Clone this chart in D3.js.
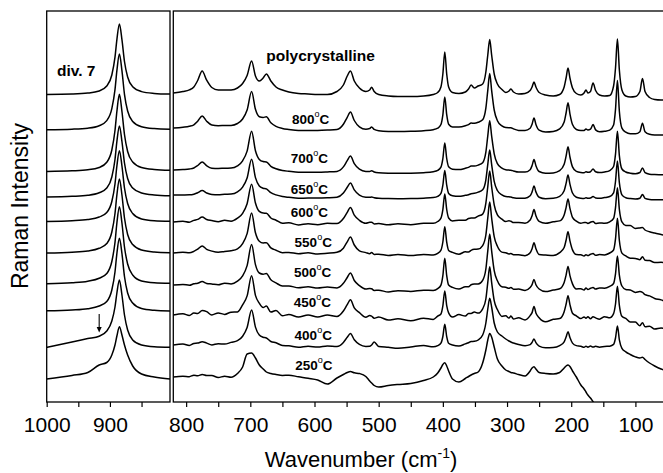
<!DOCTYPE html>
<html>
<head>
<meta charset="utf-8">
<script src="https://cdn.jsdelivr.net/npm/d3@7/dist/d3.min.js"></script>
<style>
  body { margin: 0; background: #fff; }
  svg { display: block; }
  text { font-family: Arial, "Liberation Sans", sans-serif; fill: #000; }
</style>
</head>
<body>
<div id="chart"></div>
<script>
// ---- data ----
// spectrum names, top to bottom
const names = ["polycrystalline", "800", "700", "650", "600", "550", "500", "450", "400", "250"];
// vertical offset of each spectrum (arbitrary intensity units)
const offsets = [309, 274, 232, 207, 180, 149, 117, 87, 57, 25];

// left panel (div. 7), wavenumbers in cm-1
const wnLeft = [1000, 960, 935, 917, 905, 897, 892, 889, 885, 881, 877, 872, 864, 850, 830, 805];
const lPoly = [-1.4, -1, -0.1, 2, 7, 18, 35.8, 53.4, 69, 53.4, 31.5, 16, 6.3, 1.4, -0.4, -1.1];
const l800 = [-1.7, -1.2, -0.2, 2.3, 7.4, 19.3, 38.3, 57.3, 74, 57.3, 33.7, 17, 6.6, 1.3, -0.6, -1.3];
const l700 = [-1.4, -0.8, 0.2, 2.5, 7.8, 20, 39.5, 58.5, 75.7, 58.5, 35.5, 18.5, 8, 2.5, 0.5, -0.3];
const l650 = [-2, -1.3, -0.3, 2.2, 7, 18, 35.5, 53.5, 69, 53.5, 32, 16.5, 7, 2, 0, -0.8];
const l600 = [0.6, 1.3, 2.5, 5, 9.5, 20.5, 38, 56, 71.3, 56, 34, 18.5, 8.5, 3, 1.3, 0.8];
const l550 = [0, 0.8, 2, 4.7, 9.5, 21, 39.5, 58, 74, 58, 35, 18.5, 8.5, 3, 1, 0.3];
const l500 = [1.2, 2.2, 3.8, 6.7, 11.5, 23.5, 42.5, 62, 78.3, 62, 38, 21, 10, 4, 2.2, 1.7];
const l450 = [4.2, 5, 6.3, 9, 13.5, 25, 43, 61.5, 76.7, 61.5, 38.5, 22, 12, 6.5, 4.7, 4];
const l400 = [-2.3, 3.1, 6.4, 8.8, 14, 24, 38, 52, 65, 50, 30, 15, 5, 0, -1.8, -2.3];
const l250 = [-2, 1.5, 4.5, 12, 14.5, 22, 32, 41, 50.3, 42, 32, 22, 11, 3, 0, -2];

// right panel, wavenumbers in cm-1
const wnRight = [820, 805, 795, 788, 782, 775, 768, 760, 750, 740,
  730, 720, 712, 705, 698, 692, 686, 680, 675, 668,
  660, 650, 640, 625, 610, 595, 580, 565, 555, 549,
  544, 538, 530, 520, 514, 511, 507, 500, 485, 470,
  450, 430, 415, 408, 403, 400, 397, 394, 391, 385,
  375, 365, 360, 356, 351, 345, 338, 333, 330, 327,
  324, 320, 315, 308, 302, 297, 294, 290, 282, 272,
  264, 261, 258, 255, 250, 240, 228, 218, 211, 208,
  205, 202, 198, 192, 185, 180, 177, 174, 170, 166,
  162, 156, 148, 140, 134, 131, 128, 125, 121, 115,
  108, 100, 93, 89, 85, 78, 70, 60, 50];

const rPoly = [0, 1.5, 3.1, 6, 12.5, 22, 12.8, 5.5, 3, 3,
  3, 5, 9.5, 17.5, 32, 17, 12, 15, 19, 12,
  6, 3, 1, -0.5, -1, -1.5, -1.5, 1.5, 8, 17,
  22, 12, 5, 1.5, 3, 5.7, 1.5, -1.5, -3, -3.5,
  -3.5, -3, -1.5, 0.5, 6, 19, 41, 19, 6, 0.5,
  -0.5, 1, 4, 8, 5, 7, 9, 21, 38, 53.5,
  38, 19, 9, 3.5, 0.5, 2, 4, 1, -1, -0.5,
  2.5, 6, 11, 6, 0.5, -2, -3, -1.5, 6, 15,
  25, 15, 5, -0.5, -2, 0, 3, 0, 1.5, 10,
  2.5, -2, -3, -2.5, 7, 25, 54, 23, 3, -3,
  -4, -3.5, 1.5, 14.5, 1.5, -4.5, -6.5, -7, -7];
const r800 = [0, 0.8, 1.7, 3.2, 6.8, 12, 6.8, 3, 2.3, 2.5,
  2.6, 4.5, 9, 18, 36.4, 18.7, 11.3, 10.6, 11.2, 5.3,
  1.7, -0.4, -1.4, -2.5, -2.6, -2.5, -2.1, -1.5, 3.7, 10.7,
  16, 7.5, 1.2, -1.2, -0.5, 1.1, -1.4, -2.7, -3.4, -3.5,
  -3.3, -2.7, -1.7, -0.2, 3.5, 13.2, 31, 13.3, 3.8, 1.1,
  1, 2.2, 3.4, 4.9, 4.8, 5.7, 8.2, 19.8, 37.7, 54.5,
  37.6, 18, 7.3, 2.1, 0.4, 0.3, 0.3, -0.9, -2.4, -2.6,
  -0.3, 3.8, 10, 3.6, -2.1, -3.9, -3.4, -0.9, 6, 15,
  25.3, 14.2, 3.4, -1.5, -2.5, -2.4, -0.9, -2, -1.2, 3.4,
  -1.9, -3.8, -3.3, -2.1, 3, 18.6, 47.5, 16.8, -0.1, -4.2,
  -5.7, -5.8, -3.7, 4.8, -3.8, -6.3, -6.9, -7, -7];
const r700 = [0, 0.5, 1, 2, 4.5, 8.1, 4.3, 1.8, 1.5, 1.8,
  1.9, 4.2, 9.2, 18.9, 38.8, 19.3, 10.6, 8.4, 8, 3.7,
  1.2, -0.5, -1.3, -2.2, -2.2, -2.2, -1.9, -1.4, 3.1, 9.3,
  13.9, 6.4, 0.8, -1.4, -1.5, -0.8, -2, -2.8, -3.2, -3.3,
  -3.2, -2.7, -1.7, -0.4, 2.9, 11.4, 26.9, 11.5, 3.2, 0.8,
  0.4, 1.7, 2.6, 4, 4, 4.9, 7.3, 17.8, 34.1, 49.3,
  34, 16.2, 6.4, 1.8, 0.2, -0.1, -0.2, -1, -2.1, -2.1,
  0.3, 4.4, 10.6, 4.2, -1.5, -3.2, -2.9, -0.7, 5.7, 13.8,
  23.3, 13, 3.1, -1.4, -2.5, -2.7, -1.8, -2.3, -1.7, 0.9,
  -1.8, -2.6, -2, -0.6, 3.5, 15.9, 38.7, 14.4, 1, -2,
  -3.2, -3.7, -2.5, 2.1, -2.7, -4.2, -4.6, -4.8, -5];
const r650 = [0, 0.1, 0.2, 0.8, 2.3, 4.4, 2, 0.5, 0.3, 0.7,
  0.9, 3.1, 7.9, 17, 35.7, 17.4, 9.1, 6.8, 6.1, 2.3,
  0.1, -1.5, -2.3, -3.2, -3.1, -3.1, -2.8, -2.2, 2, 7.7,
  12.1, 5.1, -0.1, -2.2, -2.3, -2, -2.7, -3.3, -3.6, -3.7,
  -3.6, -3.2, -2.6, -1.4, 1.6, 9.8, 24.6, 9.8, 1.6, -0.7,
  -1.3, -0.3, 0.3, 1.3, 1.7, 2.9, 5.2, 15.2, 30.6, 45,
  30.6, 13.7, 4.5, 0.1, -1.6, -1.8, -2.1, -2.7, -3.3, -3.2,
  -0.8, 3.1, 8.9, 3.1, -2.2, -3.7, -3.3, -1.3, 4.3, 11.6,
  20.1, 10.9, 2, -2.2, -3.2, -3.4, -2.8, -3.2, -2.9, -1.6,
  -2.9, -3.3, -2.6, -1.5, 2.2, 13.5, 34, 12.3, 0.2, -2.7,
  -3.6, -4, -3.2, 0.6, -3.3, -4.4, -4.7, -4.8, -5];
const r600 = [0, 0.8, -0.2, 1.6, 2.6, 5, 2.5, 1.4, 0.2, 1.7,
  0.8, 3.8, 8.7, 18.3, 37.8, 19, 10.6, 8.9, 8.8, 4,
  1.8, -1.2, -0.8, -2.9, -1.8, -2.7, -1.3, -1.6, 3.5, 9.7,
  14.5, 6.9, 1.7, -1.3, -0.3, -0.2, -1.9, -1.6, -2.8, -1.8,
  -2.7, -1.2, -1.3, 0.5, 3.8, 12.4, 28.1, 12.5, 4, 1.1,
  1.7, 1.8, 3.5, 4.1, 4, 5.9, 7.9, 18.8, 35.4, 51,
  35.4, 17.2, 7.2, 2.9, 0.5, 1.3, 0.7, -0.6, -0.4, -1.2,
  2, 6.2, 12.5, 6.2, 0.6, -1.3, 0.2, 1.1, 7.1, 14.4,
  22.9, 13.7, 4.7, 0.9, -1.2, -0.5, -0.5, -1.4, -0.2, 0.5,
  -1.4, -0.9, -1.3, 0.2, 3.6, 14.4, 34.3, 12.7, 0.1, -3.4,
  -3.6, -6.4, -5.9, -5.5, -8, -9.7, -11, -12.5, -14];
const r550 = [0, 0.8, 0.2, 1.6, 3.8, 7, 3.7, 1.9, 0.7, 1.5,
  2.2, 4.1, 9.4, 19.4, 40, 20.2, 11.8, 10.1, 10.3, 5.1,
  2.8, 0.3, 0.6, -0.8, 0.2, -1, -0.3, 0.7, 4.8, 11.2,
  15.9, 8, 2.2, 0.4, -0.7, 0.4, -1.4, -1.2, -2.5, -1.5,
  -2.6, -1.5, -2, -0.4, 2.8, 11, 26.3, 10.9, 2.6, 0.6,
  -1.2, 1.2, 1, 2.7, 3.7, 3.9, 7.4, 18, 35.1, 51,
  35, 16.4, 6.8, 0.9, 0.3, -0.9, -0.5, -1.8, -1.8, -2.7,
  0.3, 4.3, 10.3, 4.3, -1.5, -2, -2.5, 0.4, 5.5, 12.8,
  21.3, 12.1, 3.1, -1.6, -1.7, -3, -1.8, -2.6, -1.3, -0.5,
  -2.3, -1.6, -1.9, 0, 3, 14.1, 34.7, 12.5, -0.1, -2.9,
  -5.2, -5.4, -6.7, -3.8, -7.2, -7.6, -9.5, -9.3, -10.5];
const r500 = [0, 0.6, -0.3, 1.2, 1.8, 3.4, 1.6, 1, 0.2, 1.8,
  1.1, 3.9, 9.1, 19.4, 40.5, 20.4, 12, 10.8, 11.5, 5.2,
  2.1, -1, -0.9, -2.8, -1.8, -3.1, -2.1, -2.9, 1.7, 7.5,
  12, 4.5, -0.6, -4.1, -3.5, -3.8, -5.4, -5.2, -7, -5.7,
  -6.5, -5.2, -5.5, -3.7, -0.1, 9.4, 26.7, 9.4, -0.1, -2.4,
  -4.1, -1.8, -1.7, 0.2, 0.9, 1, 4.7, 16, 34.1, 51,
  34.2, 14.4, 4.2, -1.7, -2.2, -3.3, -2.4, -4.2, -4.1, -5.4,
  -2.5, 0.4, 5.6, 0.2, -4, -6.6, -5, -3.8, 2.5, 9.9,
  18.5, 9.4, 1.1, -3.9, -3.7, -4.9, -3.1, -4.4, -3.3, -2.6,
  -4, -3, -3.2, -1.3, 1.5, 11.1, 29, 9.9, -1, -4.5,
  -5, -7.4, -6.6, -7.3, -9.7, -10.9, -13.5, -14.9, -17.7];
const r450 = [0, 1.2, -0.5, 2, 1.5, 4.6, 3.4, 0, 2.1, 0.6,
  2.8, 3.1, 10.2, 19.1, 39.3, 19.6, 11.8, 7.5, 9, 2.9,
  4.6, -0.8, 0.5, -2, 0, -2.1, 0.1, -1.5, 4, 10.4,
  15.2, 7.2, 2.4, -2.2, -0.5, -1.2, -3.2, -2, -5.1, -3.8,
  -5.8, -3.2, -4.4, -1.1, 1, 9.2, 24, 9.3, 2.1, -2.1,
  0.4, -1.1, 1.5, 1.6, 2.9, 1.9, 6.2, 16, 32.6, 48.2,
  32.6, 14.3, 5.4, -1.4, -0.8, -3, -1.1, -3.9, -2.8, -4.9,
  -0.6, 2.4, 8.6, 2.1, -2.7, -6.8, -4.3, -3.6, 3.3, 10.7,
  19.3, 10.4, 1.8, -0.9, -3.6, -1.9, -3.3, -1.8, -3.8, -1.8,
  -2.9, -4.2, -1.7, -2.8, 1.4, 11, 28.8, 9.7, -1.3, -3.4,
  -7.1, -7.1, -10.7, -7.7, -11.7, -11.2, -14, -13, -15];
const r400 = [0, 1, -0.5, 1.5, 1.9, 3.3, 1.9, 0.1, 1.3, 0.9,
  2.6, 4.3, 8.8, 17.5, 35, 17.9, 9.9, 7.7, 7, 3.5,
  2.2, -0.5, -0.8, -2.3, -1.2, -2.1, -0.9, -1.5, 2.6, 7.7,
  11.4, 5.2, 0.6, -1.4, -1.3, 0, 3, -1.4, -2.3, -3.3,
  -2, -0.5, -1.8, -0.6, 1.9, 8.5, 20.7, 8.4, 1.7, 0,
  -1, 1.1, 2.2, 3.5, 3.7, 5, 10, 22, 36, 46.7,
  38, 22, 13, 9, 6, 4, 3, 2, 0.5, -0.7,
  0.4, 2.6, 6.1, 2.4, -1.1, -2.7, -2.5, -0.6, 3.2, 7.9,
  13.3, 7.5, 1.9, -0.6, -1.2, -2.3, -1.2, -2.2, -1.1, -2.1,
  -1.3, -2.2, -1.5, -1.2, 0.6, 7, 19, 5.2, -3.3, -6.8,
  -9.5, -11.9, -13, -12.2, -14.5, -18, -21, -24, -26];
const r250 = [0, 0.8, 0.3, 1.8, 1.2, 2.5, 1.5, 1.4, -0.5, 0.8,
  -0.2, 3.5, 10, 23, 24, 19, 12, 8, 5, 3.5,
  2.5, 1.6, 1.8, 0.2, -1.3, -3, -7, -1, 2.5, 4.5,
  5.5, 4.2, 3.5, 0.5, -4, -6, -8.5, -10, -8.5, -7.5,
  -6.5, -3.5, 0, 4, 9, 12.5, 14.3, 11, 6, -2,
  -5, -1.5, 0.5, 2, 3.5, 5, 14, 27, 37, 43.5,
  40, 30, 18, 11, 7, 5.5, 4.5, 4, 2.5, 1,
  6, 9, 10.3, 8, 4.5, 3.5, 3, 4.5, 9, 11,
  12, 10.5, 6, 0, -8, -12, -15, -18, -21, -24.7,
  -28.5, -34, -42, -50, null, null, null, null, null, null,
  null, null, null, null, null, null, null, null, null];

const leftSeries = [lPoly, l800, l700, l650, l600, l550, l500, l450, l400, l250];
const rightSeries = [rPoly, r800, r700, r650, r600, r550, r500, r450, r400, r250];

const ticksLeft = [1000, 950, 900, 850];
const ticksRight = [800, 750, 700, 650, 600, 550, 500, 450, 400, 350, 300, 250, 200, 150, 100];

// label anchors: [wavenumber, intensity]
const labelAt = [[675, 341], [635, 278], [637, 238.7], [637, 208], [637, 185.3],
  [631, 155.3], [632, 125.3], [632.5, 94.7], [631, 62], [630, 32]];

// ---- chart ----
const width = 663, height = 473;
const plotTop = 11, plotBottom = 402;

const svg = d3.select("#chart").append("svg")
  .attr("width", width)
  .attr("height", height)
  .style("background", "#fff");

const xL = d3.scaleLinear().domain([1000, 805]).range([46.7, 170]);
const xR = d3.scaleLinear().domain([820, 57]).range([173.3, 663]);
const y = d3.scaleLinear().domain([0, 391]).range([plotBottom, plotTop]);

const defs = svg.append("defs");
defs.append("clipPath").attr("id", "clipL").append("rect")
  .attr("x", 46.7).attr("y", plotTop).attr("width", 170 - 46.7).attr("height", plotBottom - plotTop);
defs.append("clipPath").attr("id", "clipR").append("rect")
  .attr("x", 173.3).attr("y", plotTop).attr("width", 500).attr("height", plotBottom - plotTop);

function drawSpectra(x, wn, series, clip) {
  const line = d3.line()
    .defined(d => d[1] != null)
    .x(d => x(d[0]))
    .y(d => y(d[1]))
    .curve(d3.curveMonotoneX);

  svg.append("g")
    .attr("clip-path", "url(#" + clip + ")")
    .selectAll("path")
    .data(series)
    .join("path")
    .attr("fill", "none")
    .attr("stroke", "#000")
    .attr("stroke-width", 1.5)
    .attr("stroke-linejoin", "round")
    .attr("d", (s, i) => line(wn.map((w, j) => [w, s[j] == null ? null : offsets[i] + s[j]])));
}

drawSpectra(xL, wnLeft, leftSeries, "clipL");
drawSpectra(xR, wnRight, rightSeries, "clipR");

// frames
svg.append("rect")
  .attr("x", 46.7).attr("y", plotTop).attr("width", 170 - 46.7).attr("height", plotBottom - plotTop)
  .attr("fill", "none").attr("stroke", "#000").attr("stroke-width", 1.3);
svg.append("rect")
  .attr("x", 173.3).attr("y", plotTop).attr("width", 520).attr("height", plotBottom - plotTop)
  .attr("fill", "none").attr("stroke", "#000").attr("stroke-width", 1.3);

// bottom axes
function drawAxis(x, ticks) {
  const axis = d3.axisBottom(x)
    .tickValues(ticks)
    .tickSize(5)
    .tickFormat(d => d % 100 === 0 ? d : "");
  const g = svg.append("g")
    .attr("transform", "translate(0," + plotBottom + ")")
    .call(axis);
  g.select(".domain").remove();
  g.selectAll(".tick line").attr("stroke", "#000").attr("stroke-width", 1.2);
  g.selectAll(".tick text")
    .attr("y", 29.5)
    .attr("dy", 0)
    .style("font-size", "21px")
    .style("font-family", "Arial, 'Liberation Sans', sans-serif")
    .attr("fill", "#000");
}
drawAxis(xL, ticksLeft);
drawAxis(xR, ticksRight);

// axis titles
const xt = svg.append("text")
  .attr("x", 361).attr("y", 467)
  .attr("text-anchor", "middle")
  .style("font-size", "22px");
xt.append("tspan").text("Wavenumber (cm");
xt.append("tspan").attr("dy", -9).style("font-size", "14px").text("-1");
xt.append("tspan").attr("dy", 9).text(")");

svg.append("text")
  .attr("transform", "translate(28,206) rotate(-90)")
  .attr("text-anchor", "middle")
  .style("font-size", "23px")
  .text("Raman Intensity");

// spectrum labels
names.forEach((n, i) => {
  const t = svg.append("text")
    .attr("x", xR(labelAt[i][0]))
    .attr("y", y(labelAt[i][1]))
    .style("font-weight", "bold");
  if (i === 0) {
    t.style("font-size", "15.5px").text(n);
  } else {
    t.style("font-size", "13.5px");
    t.append("tspan").text(n);
    t.append("tspan").attr("dy", -7).style("font-size", "9px").style("font-weight", "normal").text("o");
    t.append("tspan").attr("dy", 7).text("C");
  }
});

svg.append("text")
  .attr("x", xL(983.7)).attr("y", y(326))
  .style("font-size", "15.5px")
  .style("font-weight", "bold")
  .text("div. 7");

// arrow marking the shoulder
const ax = xL(917);
svg.append("line")
  .attr("x1", ax).attr("x2", ax)
  .attr("y1", y(88)).attr("y2", y(73))
  .attr("stroke", "#000").attr("stroke-width", 1.1);
svg.append("path")
  .attr("d", d3.line()([[ax - 2.5, y(75)], [ax + 2.5, y(75)], [ax, y(69.5)]]) + "Z")
  .attr("fill", "#000");
</script>
</body>
</html>
